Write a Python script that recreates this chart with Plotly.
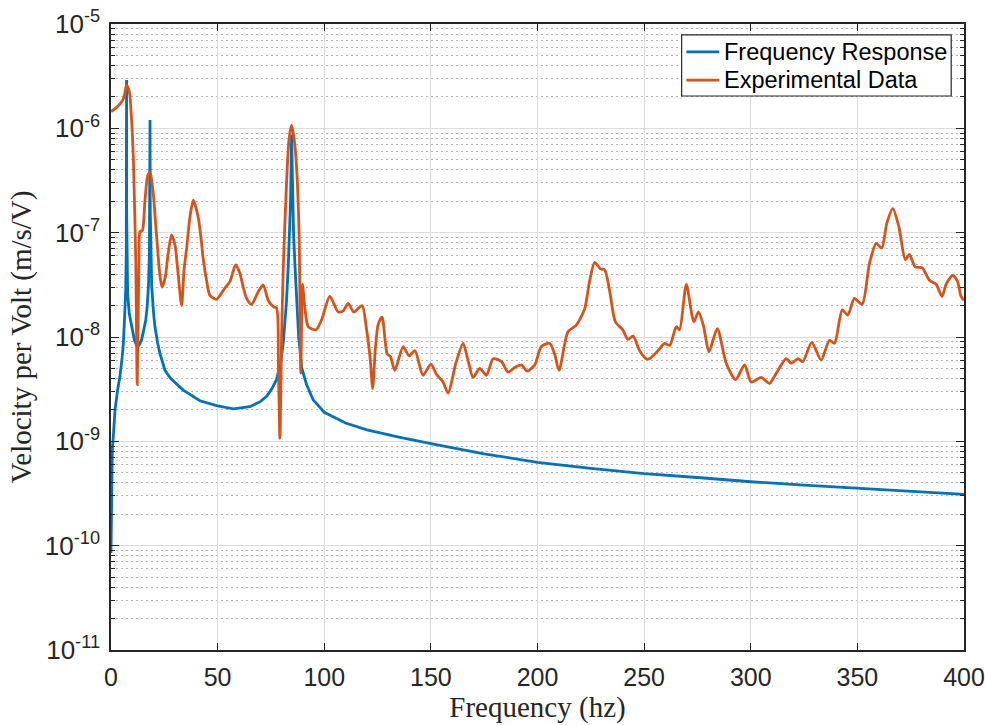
import plotly.graph_objects as go

# Model frequency response (velocity per volt) sampled at these frequencies
model_freq = [0, 0.15, 0.3, 0.6, 1.1, 1.9, 3.0, 4.2, 5.2, 5.8, 6.4, 6.9, 7.15, 7.25, 7.3, 7.35,
              7.45, 7.8, 8.6, 9.7, 11, 12.3, 13.4, 14.4, 15.5, 16.3, 17.0, 17.6, 18.0, 18.2,
              18.3, 18.4, 18.6, 19.1, 20, 20.6, 21.8, 23, 25.3, 28, 33.9, 41.7, 49.5, 57.3,
              65.1, 70, 73, 75.5, 77.6, 79.5, 80.8, 82.3, 83.1, 83.8, 84.2, 84.5, 84.7, 84.9,
              85.2, 85.6, 86.3, 87, 88, 89.4, 91.7, 94.8, 100, 110, 120, 135, 150, 175, 200,
              225, 250, 275, 300, 325, 350, 375, 400]
model_resp = [8.5e-11, 2.5e-10, 6.3e-10, 8.3e-10, 1.12e-9, 2.0e-9, 3.0e-9, 4.2e-9, 6.3e-9,
              8.7e-9, 1.6e-8, 2.8e-8, 6.3e-8, 1.6e-7, 2.9e-6, 1.6e-7, 6.3e-8, 2.6e-8, 1.66e-8,
              1.26e-8, 9.3e-9, 8.1e-9, 8.5e-9, 9.5e-9, 1.17e-8, 1.45e-8, 2.0e-8, 3.2e-8, 6.3e-8,
              1.6e-7, 1.2e-6, 1.6e-7, 6.3e-8, 3.0e-8, 1.66e-8, 1.26e-8, 8.9e-9, 6.9e-9, 4.8e-9,
              4.0e-9, 3.1e-9, 2.45e-9, 2.2e-9, 2.05e-9, 2.15e-9, 2.4e-9, 2.7e-9, 3.2e-9, 3.9e-9,
              5.6e-9, 8.9e-9, 2.2e-8, 4.7e-8, 1.0e-7, 2.0e-7, 5.0e-7, 8.7e-7, 5.0e-7, 2.0e-7,
              1.0e-7, 4.7e-8, 2.2e-8, 1.0e-8, 5.1e-9, 3.5e-9, 2.5e-9, 1.9e-9, 1.5e-9, 1.29e-9,
              1.1e-9, 9.5e-10, 7.6e-10, 6.3e-10, 5.5e-10, 4.9e-10, 4.5e-10, 4.1e-10, 3.8e-10,
              3.55e-10, 3.3e-10, 3.1e-10]

# Measured response
exp_freq = [0, 2.5, 5.0, 6.1, 7.3, 8.6, 9.6, 10.5, 11.6, 12.3, 13.1, 13.6, 14.7, 15.9, 17.2,
            18.3, 19.8, 21.4, 23, 24, 25.5, 26.8, 28.4, 30, 31.5, 33.1, 34.3, 35.5, 37, 38.6,
            40.9, 42.2, 43.3, 44.8, 46.4, 49.5, 53.4, 55.8, 58.4, 60.4, 62, 63.6, 65.9, 69,
            71.4, 73.7, 76.1, 77.6, 78.5, 79.2, 80.0, 80.8, 82.3, 83.5, 84.7, 85.9, 87, 88.2,
            89, 89.8, 90.8, 92.5, 96.1, 98.7, 102.6, 106.5, 108.9, 111.2, 113.9, 117.7, 119.8,
            121.5, 122.7, 124, 125.3, 127.1, 129.5, 131, 133.1, 137, 139.8, 142.5, 146.3, 150,
            152.6, 155.7, 158.1, 161.7, 165.1, 167.4, 169.8, 172.9, 176.1, 179.2, 183.1, 186.2,
            189.3, 192.5, 195.1, 198.7, 201.8, 205.7, 208, 210.1, 214.3, 218.2, 222.1, 224.5,
            226.8, 229.5, 231.5, 233.8, 236.5, 240, 242.4, 244.8, 247.9, 251, 252.6, 256.5,
            259.6, 262, 265.1, 266.6, 269.8, 273.3, 275.5, 277.9, 280.4, 284.3, 288.5, 292.9,
            297.1, 300.2, 304.9, 308.8, 312, 316.6, 319, 322.1, 324.4, 328.6, 333, 336.9,
            339.3, 342.9, 345.5, 348.6, 352.2, 355.7, 358.8, 361.4, 363.8, 366.6, 369.4, 372.5,
            374.4, 377.1, 380.4, 383.8, 386.9, 389.7, 391.6, 394.7, 397, 398.6, 400]
exp_resp = [1.45e-6, 1.58e-6, 1.80e-6, 2.0e-6, 2.6e-6, 2.24e-6, 1.26e-6, 5.0e-7, 5.5e-8,
            3.5e-9, 5.5e-8, 1.02e-7, 1.05e-7, 2.0e-7, 3.5e-7, 3.8e-7, 2.4e-7, 9.1e-8, 3.8e-8,
            3.0e-8, 3.8e-8, 6.3e-8, 9.5e-8, 7.6e-8, 4.0e-8, 2.0e-8, 4.5e-8, 7.2e-8, 1.4e-7,
            2.05e-7, 1.4e-7, 8.9e-8, 5.5e-8, 3.5e-8, 2.5e-8, 2.3e-8, 2.95e-8, 3.4e-8, 4.9e-8,
            4.1e-8, 3.0e-8, 2.35e-8, 2.05e-8, 2.7e-8, 3.15e-8, 2.25e-8, 1.95e-8, 1.9e-8, 5.0e-9,
            1.07e-9, 1.0e-8, 4.7e-8, 2.95e-7, 7.9e-7, 1.07e-6, 7.9e-7, 4.3e-7, 9.8e-8, 4.5e-9,
            3.2e-8, 2.0e-8, 1.26e-8, 1.17e-8, 1.45e-8, 2.45e-8, 1.74e-8, 1.78e-8, 2.1e-8,
            1.74e-8, 2.0e-8, 1.2e-8, 6.3e-9, 3.2e-9, 7.9e-9, 1.32e-8, 1.55e-8, 6.9e-9, 6.5e-9,
            4.8e-9, 8.1e-9, 6.6e-9, 7.4e-9, 4.3e-9, 5.5e-9, 4.4e-9, 3.7e-9, 2.9e-9, 5.6e-9,
            8.7e-9, 6.0e-9, 4.1e-9, 5.0e-9, 4.3e-9, 6.2e-9, 5.8e-9, 4.6e-9, 5.1e-9, 5.4e-9,
            4.7e-9, 5.4e-9, 8.1e-9, 8.7e-9, 6.9e-9, 4.8e-9, 1.12e-8, 1.3e-8, 1.86e-8, 3.5e-8,
            5.2e-8, 4.5e-8, 4.4e-8, 2.8e-8, 1.4e-8, 1.17e-8, 9.5e-9, 1.02e-8, 7.4e-9, 6.2e-9,
            6.2e-9, 7.4e-9, 8.7e-9, 8.3e-9, 1.26e-8, 1.17e-8, 3.2e-8, 1.4e-8, 1.74e-8, 1.26e-8,
            7.2e-9, 1.2e-8, 5.6e-9, 3.9e-9, 5.4e-9, 3.7e-9, 4.1e-9, 3.6e-9, 4.5e-9, 6.2e-9,
            5.6e-9, 6.2e-9, 5.8e-9, 8.9e-9, 6.0e-9, 9.3e-9, 8.7e-9, 1.82e-8, 1.62e-8, 2.35e-8,
            2.05e-8, 5.1e-8, 7.9e-8, 7.1e-8, 1.23e-7, 1.7e-7, 1.15e-7, 5.5e-8, 6.2e-8, 4.7e-8,
            4.6e-8, 3.5e-8, 3.2e-8, 2.45e-8, 3.2e-8, 3.9e-8, 3.4e-8, 2.45e-8, 2.25e-8]

x_ticks = [0, 50, 100, 150, 200, 250, 300, 350, 400]
y_decades = [-11, -10, -9, -8, -7, -6, -5]
series_names = ["Frequency Response", "Experimental Data"]
series_colors = ["#0072BD", "#D95319"]

AX = "#262626"
SANS = "Liberation Sans, Arial, sans-serif"
SERIF = "Liberation Serif, Times New Roman, serif"

fig = go.Figure()
fig.add_trace(go.Scatter(x=model_freq, y=model_resp, mode="lines", name=series_names[0],
                         showlegend=False, line=dict(color=series_colors[0], width=2.8)))
fig.add_trace(go.Scatter(x=exp_freq, y=exp_resp, mode="lines", name=series_names[1],
                         showlegend=False,
                         line=dict(color=series_colors[1], width=2.8, shape="spline",
                                   smoothing=0.7)))

# Boxed legend in the upper right corner of the axes (paper coordinates)
box_x0, box_x1, box_y0, box_y1 = 0.669, 0.985, 0.885, 0.9825
row_y = [0.9555, 0.9105]
shapes = [dict(type="rect", xref="paper", yref="paper", x0=box_x0, x1=box_x1,
               y0=box_y0, y1=box_y1, fillcolor="white", line=dict(color=AX, width=1.2),
               layer="above")]
annotations = []
for name, color, yy in zip(series_names, series_colors, row_y):
    shapes.append(dict(type="line", xref="paper", yref="paper", x0=0.6745, x1=0.7131,
                       y0=yy, y1=yy, line=dict(color=color, width=2.8), layer="above"))
    annotations.append(dict(text=name, xref="paper", yref="paper", x=0.7165, y=yy,
                            xanchor="left", yanchor="middle", showarrow=False,
                            font=dict(family=SANS, size=23.5, color="#000000")))

minor_vals = [m * 10.0 ** d for d in y_decades[:-1] for m in range(2, 10)]

fig.update_layout(
    width=985, height=725,
    margin=dict(l=111, r=21, t=24, b=75),
    paper_bgcolor="white", plot_bgcolor="white",
    font=dict(family=SANS, color=AX, size=24),
    showlegend=False,
    shapes=shapes,
    annotations=annotations,
    xaxis=dict(range=[0, 400], tickvals=x_ticks, ticks="inside", ticklen=7, tickwidth=1.2,
               tickcolor=AX, showline=True, linecolor=AX, linewidth=1.5, mirror="ticks",
               showgrid=True, gridcolor="#dcdcdc", gridwidth=1, zeroline=False,
               automargin=False, ticklabelstandoff=4,
               tickfont=dict(family=SANS, size=25, color=AX),
               title=dict(text="Frequency (hz)", font=dict(family=SERIF, size=29, color=AX),
                          standoff=6)),
    yaxis=dict(type="log", range=[-11, -5],
               tickvals=[10.0 ** d for d in y_decades],
               ticktext=["10<sup>%d</sup>" % d for d in y_decades],
               ticks="inside", ticklen=8, tickwidth=1.2, tickcolor=AX,
               showline=True, linecolor=AX, linewidth=1.5, mirror="ticks",
               showgrid=True, gridcolor="#dcdcdc", gridwidth=1, zeroline=False,
               automargin=False, ticklabelstandoff=4,
               tickfont=dict(family=SANS, size=26, color=AX),
               minor=dict(tickvals=minor_vals, ticks="inside", ticklen=4, tickwidth=1,
                          tickcolor=AX, showgrid=True, gridcolor="#b4b4b4",
                          griddash="2px,3px", gridwidth=1),
               title=dict(text="Velocity per Volt (m/s/V)",
                          font=dict(family=SERIF, size=29, color=AX), standoff=5)),
)

fig.write_html("out.html")
